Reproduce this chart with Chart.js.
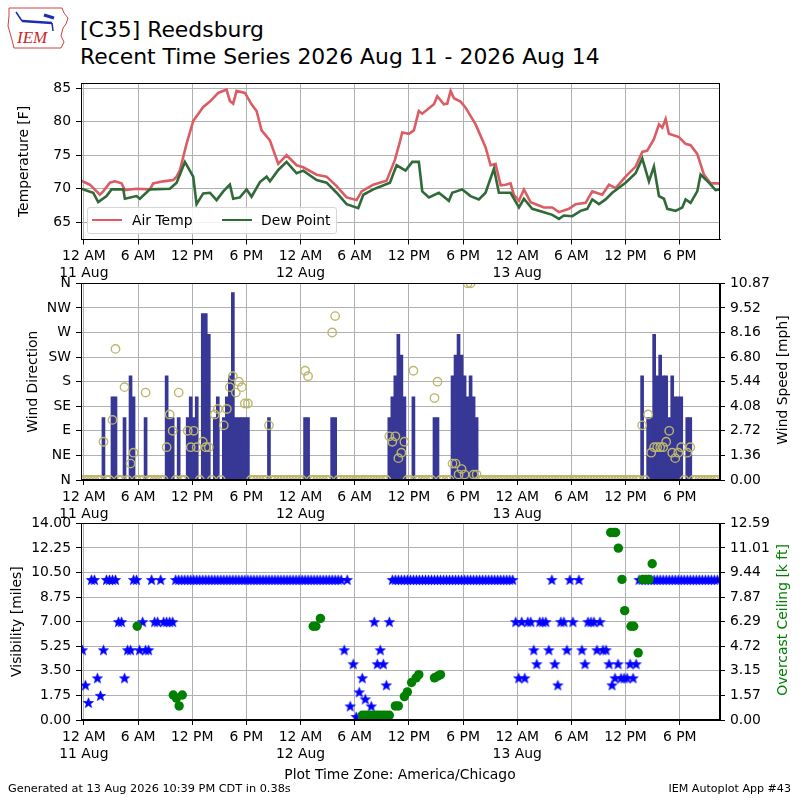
<!DOCTYPE html>
<html>
<head>
<meta charset="utf-8">
<script src="https://cdn.jsdelivr.net/npm/chart.js@4.4.1/dist/chart.umd.min.js"></script>
<style>
  body { margin: 0; background: #fff; font-family: 'DejaVu Sans', sans-serif; }
  #page { position: relative; width: 800px; height: 800px; overflow: hidden; background: #fff; }
  #page canvas { position: absolute; left: 0; }
  .txt { position: absolute; white-space: nowrap; color: #000; }
  .rtitle { position: absolute; white-space: nowrap; font-size: 13.9px; transform: translate(-50%, -50%) rotate(-90deg); }
  #legend { position: absolute; left: 87px; top: 207px; width: 248px; height: 25px; border: 1px solid #d5d5d5;
            border-radius: 3px; background: rgba(255,255,255,0.85); font-size: 13.9px; }
  #legend .sw { position: absolute; top: 11px; width: 30px; height: 0; border-top: 2.6px solid; }
  #legend .lb { position: absolute; top: 4px; }
</style>
</head>
<body>
<div id="page">
  <svg style="position:absolute;left:6px;top:4px" width="66" height="48" viewBox="0 0 66 48">
    <path d="M3 4 L56 4 L58 9 L62 14 L60 20 L57 24 L55 32 L58 38 L55 44 L8 44 L6 36 L2 22 L3 12 Z" fill="none" stroke="#d04040" stroke-width="1"/>
    <line x1="16" y1="17" x2="46" y2="19" stroke="#1a2fb0" stroke-width="2.5"/>
    <line x1="10" y1="8" x2="16" y2="17" stroke="#1a2fb0" stroke-width="1.5"/>
    <line x1="38" y1="11" x2="48" y2="14" stroke="#1a2fb0" stroke-width="3"/>
    <line x1="46" y1="19" x2="47" y2="27" stroke="#1a2fb0" stroke-width="1.5"/>
    <text x="11" y="39" font-family="Liberation Serif, serif" font-style="italic" font-size="17" fill="#c82828">IEM</text>
  </svg>
  <div class="txt" style="left:80px;top:16px;font-size:21.9px;line-height:27px">[C35] Reedsburg<br>Recent Time Series 2026 Aug 11 - 2026 Aug 14</div>

  <canvas id="cTemp" width="800" height="215" style="top:70px"></canvas>
  <canvas id="cWind" width="800" height="255" style="top:270px"></canvas>
  <canvas id="cVis" width="800" height="255" style="top:510px"></canvas>

  <div id="legend">
    <div class="sw" style="left:4px;border-color:#dc5c63"></div><div class="lb" style="left:44px">Air Temp</div>
    <div class="sw" style="left:134px;border-color:#2f6a37"></div><div class="lb" style="left:173px">Dew Point</div>
  </div>

  <div class="rtitle" style="left:782px;top:380px">Wind Speed [mph]</div>
  <div class="rtitle" style="left:782px;top:620px;color:#008000">Overcast Ceiling [k ft]</div>

  <div class="txt" style="left:0;width:800px;text-align:center;top:766px;font-size:13.9px">Plot Time Zone: America/Chicago</div>
  <div class="txt" style="left:8px;top:782px;font-size:11.3px">Generated at 13 Aug 2026 10:39 PM CDT in 0.38s</div>
  <div class="txt" style="right:9px;top:782px;font-size:11.1px">IEM Autoplot App #43</div>
</div>

<script>
// hours since 11 Aug 00:00 CDT
const X_MIN = -0.32;
const X_MAX = 70.46;
const X_TICKS = [0, 6, 12, 18, 24, 30, 36, 42, 48, 54, 60, 66];

// ---- temperature panel ----
const tempHours = [-0.3, 0.66, 1.77, 2.14, 2.88, 3.43, 4.17, 4.54, 5.83, 7.31, 7.68, 8.79, 9.9, 10.27, 10.64,
  11.37, 12.11, 13.22, 13.96, 14.88, 15.8, 16.17, 16.54, 16.91, 17.84, 18.57, 19.13, 19.68, 20.61, 21.53,
  22.45, 23.56, 24.3, 25.78, 26.88, 27.99, 29.1, 30.21, 30.76, 32.05, 33.53, 34.45, 35.0, 35.26, 36.0,
  36.55, 37.1, 37.48, 38.77, 39.14, 39.88, 40.25, 40.62, 40.99, 41.72, 42.28, 43.39, 44.49, 45.05, 45.6,
  46.16, 46.71, 47.26, 47.63, 48.19, 48.74, 49.48, 50.4, 50.96, 51.88, 52.62, 53.73, 54.47, 55.58, 56.31,
  57.42, 58.16, 58.9, 60.0, 61.11, 61.85, 62.4, 63.14, 63.7, 64.07, 64.44, 64.8, 65.91, 66.65, 67.2,
  67.94, 68.68, 69.42, 70.46];
const airTemp = [71.2, 70.6, 69.1, 69.6, 70.9, 71.1, 70.8, 69.8, 70.0, 69.9, 70.8, 71.1, 71.3, 71.8, 72.8,
  76.7, 80.1, 82.2, 83.0, 84.3, 84.8, 83.1, 82.7, 84.6, 84.3, 82.6, 81.6, 78.7, 77.2, 73.7,
  75.0, 73.5, 73.2, 72.1, 71.8, 70.4, 68.7, 68.3, 69.6, 70.6, 71.2, 74.3, 77.0, 78.4, 78.2,
  78.7, 81.6, 81.2, 82.6, 83.8, 82.6, 82.7, 84.6, 83.5, 83.0, 82.1, 79.6, 76.2, 73.5, 73.7,
  70.5, 70.6, 70.8, 69.1, 68.2, 69.9, 68.0, 67.5, 67.2, 67.2, 66.5, 67.0, 67.7, 67.9, 69.6,
  69.1, 70.6, 70.1, 71.8, 73.3, 75.5, 75.7, 77.4, 79.6, 79.1, 80.4, 78.2, 77.7, 76.7, 76.5,
  75.2, 72.1, 70.8, 70.8];
const dewHours = [-0.3, 1.03, 1.59, 2.51, 3.06, 4.36, 4.54, 5.83, 6.2, 7.31, 9.53, 10.27, 11.19, 12.11, 12.48,
  13.22, 13.96, 14.7, 15.44, 16.17, 16.54, 17.28, 18.02, 18.57, 19.5, 20.24, 20.61, 21.53, 22.45, 23.56,
  24.3, 25.78, 26.88, 27.99, 29.1, 30.39, 30.95, 32.05, 33.9, 34.64, 35.63, 36.37, 37.1, 37.48, 38.22,
  39.32, 40.43, 40.8, 41.91, 42.83, 43.75, 44.49, 45.42, 45.97, 47.26, 48.19, 48.74, 49.66, 50.96, 51.88,
  52.62, 53.17, 54.1, 55.02, 55.76, 56.31, 57.05, 57.79, 58.53, 60.0, 61.11, 61.85, 62.59, 63.14, 63.7,
  64.25, 64.62, 65.54, 66.28, 66.65, 67.2, 67.94, 68.31, 69.23, 69.97, 70.46];
const dewPoint = [70.0, 69.4, 68.0, 68.9, 69.9, 69.9, 68.5, 68.9, 68.5, 69.9, 70.0, 70.9, 74.0, 71.8, 67.7,
  69.3, 69.4, 68.3, 69.6, 70.6, 68.5, 68.7, 69.9, 68.8, 71.0, 71.8, 71.1, 72.8, 74.0, 72.3,
  72.7, 71.3, 70.9, 69.4, 67.7, 67.1, 69.1, 69.9, 70.9, 73.5, 72.7, 74.0, 74.0, 69.6, 68.7,
  69.4, 68.2, 69.4, 69.9, 68.9, 68.4, 69.4, 73.0, 69.4, 69.4, 67.2, 68.5, 67.0, 66.5, 66.1,
  65.5, 66.0, 65.9, 66.7, 67.0, 68.4, 67.7, 68.4, 69.4, 70.9, 72.3, 74.5, 71.1, 73.3, 68.9,
  68.5, 67.0, 66.7, 67.2, 68.4, 67.9, 69.6, 72.1, 70.9, 69.8, 69.9];
const TEMP_MIN = 62.42, TEMP_MAX = 85.73;
const TEMP_TICKS = [65, 70, 75, 80, 85];

// ---- 20 minute observations (first one 23:50 on 10 Aug) ----
const OBS_FIRST = -1 / 6;
const OBS_STEP = 1 / 3;
// wind speed [knots], one row = 4 hours
const windKtDay1 = [
  0, 0, 0, 0, 0, 0, 0, 3, 0, 0, 4, 4,
  0, 0, 3, 0, 5, 4, 0, 0, 0, 3, 0, 0,
  0, 0, 0, 0, 5, 3, 3, 0, 3, 0, 0, 3,
  4, 3, 4, 0, 8, 8, 7, 0, 3, 4, 0, 3,
  4, 5, 9, 3, 3, 3, 3, 3, 0, 0, 0, 0,
  0, 0, 3, 0, 0, 0, 0, 0, 0, 0, 0, 0];
const windKtDay2 = [
  0, 0, 3, 3, 0, 0, 0, 0, 0, 0, 0, 3,
  3, 0, 0, 0, 0, 0, 0, 0, 0, 0, 0, 0,
  0, 0, 0, 0, 0, 0, 3, 4, 5, 7, 6, 4,
  0, 0, 4, 0, 0, 0, 0, 0, 0, 3, 3, 0,
  0, 0, 0, 5, 6, 7, 6, 5, 4, 5, 4, 3,
  0, 0, 0, 0, 0, 0, 0, 0, 0, 0, 0, 0];
const windKtDay3 = [
  0, 0, 0, 0, 0, 0, 0, 0, 0, 0, 0, 0,
  0, 0, 0, 0, 0, 0, 0, 0, 0, 0, 0, 0,
  0, 0, 0, 0, 0, 0, 0, 0, 0, 0, 0, 0,
  0, 0, 0, 0, 0, 0, 5, 0, 3, 3, 7, 5,
  6, 5, 5, 3, 5, 4, 4, 4, 0, 3, 3, 0,
  0, 0, 0, 0, 0, 0, 0, 0];
// wind direction [deg], 0 when calm
const windDirDay1 = [
  0, 0, 0, 0, 0, 0, 0, 70, 0, 0, 110, 240,
  0, 0, 170, 0, 30, 50, 0, 0, 0, 160, 0, 0,
  0, 0, 0, 0, 60, 120, 90, 0, 160, 0, 0, 90,
  60, 90, 60, 0, 70, 60, 60, 0, 120, 130, 0, 100,
  130, 170, 190, 160, 180, 170, 140, 140, 0, 0, 0, 0,
  0, 0, 100, 0, 0, 0, 0, 0, 0, 0, 0, 0];
const windDirDay2 = [
  0, 0, 200, 190, 0, 0, 0, 0, 0, 0, 0, 270,
  300, 0, 0, 0, 0, 0, 0, 0, 0, 0, 0, 0,
  0, 0, 0, 0, 0, 0, 80, 70, 80, 40, 50, 70,
  0, 0, 200, 0, 0, 0, 0, 0, 0, 150, 180, 0,
  0, 0, 0, 30, 30, 10, 20, 10, 360, 360, 10, 10,
  0, 0, 0, 0, 0, 0, 0, 0, 0, 0, 0, 0];
const windDirDay3 = [
  0, 0, 0, 0, 0, 0, 0, 0, 0, 0, 0, 0,
  0, 0, 0, 0, 0, 0, 0, 0, 0, 0, 0, 0,
  0, 0, 0, 0, 0, 0, 0, 0, 0, 0, 0, 0,
  0, 0, 0, 0, 0, 0, 100, 0, 120, 50, 60, 60,
  60, 60, 70, 90, 50, 40, 50, 60, 0, 50, 60, 0,
  0, 0, 0, 0, 0, 0, 0, 0];
// visibility [miles]
const visDay1 = [
  5, 2.5, 1.25, 10, 10, 3, 1.75, 5, 10, 10, 10, 10,
  7, 7, 3, 5, 5, 10, 10, 5, 7, 5, 5, 10,
  7, 7, 10, 7, 7, 7, 7, 10, 10, 10, 10, 10,
  10, 10, 10, 10, 10, 10, 10, 10, 10, 10, 10, 10,
  10, 10, 10, 10, 10, 10, 10, 10, 10, 10, 10, 10,
  10, 10, 10, 10, 10, 10, 10, 10, 10, 10, 10, 10];
const visDay2 = [
  10, 10, 10, 10, 10, 10, 10, 10, 10, 10, 10, 10,
  10, 10, 10, 5, 10, 1, 4, 0.25, 2, 3, 1.5, null,
  1, 7, 4, 5, 4, 2.5, 7, 10, 10, 10, 10, 10,
  10, 10, 10, 10, 10, 10, 10, 10, 10, 10, 10, 10,
  10, 10, 10, 10, 10, 10, 10, 10, 10, 10, 10, 10,
  10, 10, 10, 10, 10, 10, 10, 10, 10, 10, 10, 10];
const visDay3 = [
  7, 3, 7, 3, 7, 7, 5, 4, 7, 7, 7, 5,
  10, 4, 2.5, 7, 7, 5, 10, 7, null, 10, 5, 4,
  7, 7, 7, 5, 7, 5, 5, 4, 2.5, 3, 4, 3,
  3, 3, 4, 3, 4, 10, 10, 10, 10, 10, 10, 10,
  10, 10, 10, 10, 10, 10, 10, 10, 10, 10, 10, 10,
  10, 10, 10, 10, 10, 10, 10, 10];

// overcast ceiling [k ft]
const ceilHours = [5.9, 9.9, 10.25, 10.55, 10.9, 25.4, 25.7, 26.2,
  30.83, 31.17, 31.5, 31.83, 32.17, 32.5, 32.83, 33.17, 33.5, 33.83, 34.5, 34.83,
  35.5, 35.83, 36.3, 36.8, 37.1, 38.83, 39.17, 39.5,
  58.35, 58.65, 58.9, 59.2, 59.6, 59.9, 60.6, 60.9, 61.4, 61.9, 62.25, 62.6, 62.95];
const ceilKft = [6.0, 1.6, 1.4, 0.9, 1.6, 6.0, 6.0, 6.5,
  0.3, 0.3, 0.3, 0.3, 0.3, 0.3, 0.3, 0.3, 0.3, 0.3, 0.9, 0.9,
  1.5, 1.8, 2.4, 2.7, 2.9, 2.7, 2.8, 2.9,
  12.0, 12.0, 12.0, 11.0, 9.0, 7.0, 6.0, 6.0, 4.3, 9.0, 9.0, 9.0, 10.0];
const CEIL_AXIS_MAX = 12.587;
const VIS_AXIS_MAX = 14;
const DIR_LABELS = ['N', 'NE', 'E', 'SE', 'S', 'SW', 'W', 'NW', 'N'];
const KT_TO_MPH = 1.150779;

const windKt = [...windKtDay1, ...windKtDay2, ...windKtDay3];
const windDir = [...windDirDay1, ...windDirDay2, ...windDirDay3];
const visMiles = [...visDay1, ...visDay2, ...visDay3];
const obsHours = windKt.map((_, i) => OBS_FIRST + i * OBS_STEP);
const SPD_AXIS_MAX = Math.max(...windKt) * KT_TO_MPH * 1.05;

Chart.defaults.font.family = "'DejaVu Sans', sans-serif";
Chart.defaults.font.size = 13.9;
Chart.defaults.color = '#000';

const GRID = '#b0b0b0';

// black box round every axes, like matplotlib spines
const framePlugin = {
  id: 'frame',
  afterDraw(chart) {
    const { ctx, chartArea: a } = chart;
    ctx.save();
    ctx.strokeStyle = '#000';
    ctx.lineWidth = 1;
    const l = Math.round(a.left) + 0.5, t = Math.round(a.top) + 0.5;
    const r = Math.round(a.right) - 0.5, b = Math.round(a.bottom) - 0.5;
    ctx.strokeRect(l, t, r - l, b - t);
    ctx.restore();
  },
};

function hourLabel(v) {
  const h = ((v % 24) + 24) % 24;
  let txt;
  if (h === 0) txt = '12 AM';
  else if (h === 12) txt = '12 PM';
  else txt = h < 12 ? `${h} AM` : `${h - 12} PM`;
  return h === 0 ? [txt, `${11 + v / 24} Aug`] : txt;
}

function fixedTicks(values) {
  return (scale) => { scale.ticks = values.map((v) => ({ value: v })); };
}

function evenTicks(max, n) {
  const vals = [];
  for (let i = 0; i <= n; i++) vals.push((max * i) / n);
  return vals;
}

function xScale(height) {
  return {
    type: 'linear',
    min: X_MIN,
    max: X_MAX,
    offset: false,
    afterBuildTicks: fixedTicks(X_TICKS),
    afterFit: (s) => { s.height = height; },
    grid: { color: GRID, tickColor: '#000', tickLength: 5, offset: false },
    border: { color: '#000' },
    ticks: { callback: hourLabel, autoSkip: false, maxRotation: 0, padding: 4 },
  };
}

function leftScale(opts) {
  return Object.assign({
    position: 'left',
    grid: { color: GRID, tickColor: '#000', tickLength: 5 },
    border: { color: '#000' },
    title: { display: true, font: { size: 13.9 }, padding: { top: 4, bottom: 4 } },
  }, opts);
}

function rightScale(opts) {
  return Object.assign({
    position: 'right',
    grid: { drawOnChartArea: false, tickColor: '#000', tickLength: 5 },
    border: { color: '#000' },
    afterFit: (s) => { s.width = 74; },
  }, opts);
}

const base = {
  responsive: false,
  animation: false,
  events: [],
  plugins: { legend: { display: false }, tooltip: { enabled: false } },
};

// temperature
new Chart(document.getElementById('cTemp'), {
  type: 'line',
  data: {
    datasets: [
      {
        label: 'Dew Point',
        data: dewHours.map((h, i) => ({ x: h, y: dewPoint[i] })),
        borderColor: '#2f6a37', borderWidth: 2.6, pointRadius: 0, order: 0, clip: 0,
      },
      {
        label: 'Air Temp',
        data: tempHours.map((h, i) => ({ x: h, y: airTemp[i] })),
        borderColor: '#dc5c63', borderWidth: 2.6, pointRadius: 0, order: 1, clip: 0,
      },
    ],
  },
  options: Object.assign({}, base, {
    layout: { padding: { top: 10, left: 12, right: 80, bottom: 0 } },
    scales: {
      x: xScale(45.5),
      y: leftScale({
        min: TEMP_MIN, max: TEMP_MAX,
        afterBuildTicks: fixedTicks(TEMP_TICKS),
        afterFit: (s) => { s.width = 69; },
        ticks: { padding: 5 },
        title: { display: true, text: 'Temperature [F]', font: { size: 13.9 }, padding: { top: 4, bottom: 4 } },
      }),
    },
  }),
  plugins: [framePlugin],
});

// wind
new Chart(document.getElementById('cWind'), {
  type: 'bar',
  data: {
    datasets: [
      {
        type: 'scatter',
        label: 'Wind Direction',
        data: obsHours.map((h, i) => ({ x: h, y: windDir[i] })),
        yAxisID: 'yDir',
        pointStyle: 'circle',
        pointRadius: 4.2,
        borderWidth: 1.4,
        borderColor: '#bdb76b',
        backgroundColor: 'rgba(0,0,0,0)',
        order: 0,
        clip: 0,
      },
      {
        type: 'bar',
        label: 'Wind Speed',
        data: obsHours.map((h, i) => ({ x: h, y: windKt[i] * KT_TO_MPH })),
        yAxisID: 'ySpd',
        backgroundColor: '#373796',
        borderWidth: 0,
        barPercentage: 1,
        categoryPercentage: 1,
        order: 1,
      },
    ],
  },
  options: Object.assign({}, base, {
    layout: { padding: { top: 10, left: 21, right: 6, bottom: 0 } },
    scales: {
      x: xScale(45),
      yDir: leftScale({
        type: 'linear', min: 0, max: 360,
        afterBuildTicks: fixedTicks(evenTicks(360, 8)),
        afterFit: (s) => { s.width = 60; },
        ticks: { padding: 5, callback: (v) => DIR_LABELS[Math.round(v / 45)] },
        title: { display: true, text: 'Wind Direction', font: { size: 13.9 }, padding: { top: 4, bottom: 4 } },
      }),
      ySpd: rightScale({
        type: 'linear', min: 0, max: SPD_AXIS_MAX,
        afterBuildTicks: fixedTicks(evenTicks(SPD_AXIS_MAX, 8)),
        ticks: { padding: 5, callback: (v) => v.toFixed(2) },
      }),
    },
  }),
  plugins: [framePlugin],
});

// filled five point star, like a matplotlib '*' marker
function starMarker(r, color) {
  const c = document.createElement('canvas');
  const s = Math.ceil(r * 2 + 2);
  c.width = s; c.height = s;
  const g = c.getContext('2d');
  g.beginPath();
  for (let i = 0; i < 10; i++) {
    const a = -Math.PI / 2 + (i * Math.PI) / 5;
    const rr = i % 2 ? r * 0.42 : r;
    g.lineTo(s / 2 + rr * Math.cos(a), s / 2 + 0.7 + rr * Math.sin(a));
  }
  g.closePath();
  g.fillStyle = color;
  g.fill();
  g.strokeStyle = color;
  g.lineWidth = 0.6;
  g.stroke();
  return c;
}

// visibility + ceiling
new Chart(document.getElementById('cVis'), {
  type: 'scatter',
  data: {
    datasets: [
      {
        label: 'Overcast Ceiling',
        data: ceilHours.map((h, i) => ({ x: h, y: ceilKft[i] })),
        yAxisID: 'yCeil',
        pointRadius: 4.7,
        borderWidth: 0,
        backgroundColor: '#008000',
        order: 0,
        clip: 0,
      },
      {
        label: 'Visibility',
        data: obsHours.map((h, i) => ({ x: h, y: visMiles[i] })),
        yAxisID: 'yVis',
        pointStyle: starMarker(5.4, '#0000ff'),
        pointRadius: 5,
        order: 1,
        clip: 0,
      },
    ],
  },
  options: Object.assign({}, base, {
    layout: { padding: { top: 10, left: 5, right: 6, bottom: 0 } },
    scales: {
      x: xScale(45),
      yVis: leftScale({
        type: 'linear', min: 0, max: VIS_AXIS_MAX,
        afterBuildTicks: fixedTicks(evenTicks(VIS_AXIS_MAX, 8)),
        afterFit: (s) => { s.width = 76; },
        ticks: { padding: 5, callback: (v) => v.toFixed(2) },
        title: { display: true, text: 'Visibility [miles]', font: { size: 13.9 }, padding: { top: 4, bottom: 4 } },
      }),
      yCeil: rightScale({
        type: 'linear', min: 0, max: CEIL_AXIS_MAX,
        afterBuildTicks: fixedTicks(evenTicks(CEIL_AXIS_MAX, 8)),
        ticks: { padding: 5, callback: (v) => v.toFixed(2) },
      }),
    },
  }),
  plugins: [framePlugin],
});
</script>
</body>
</html>
